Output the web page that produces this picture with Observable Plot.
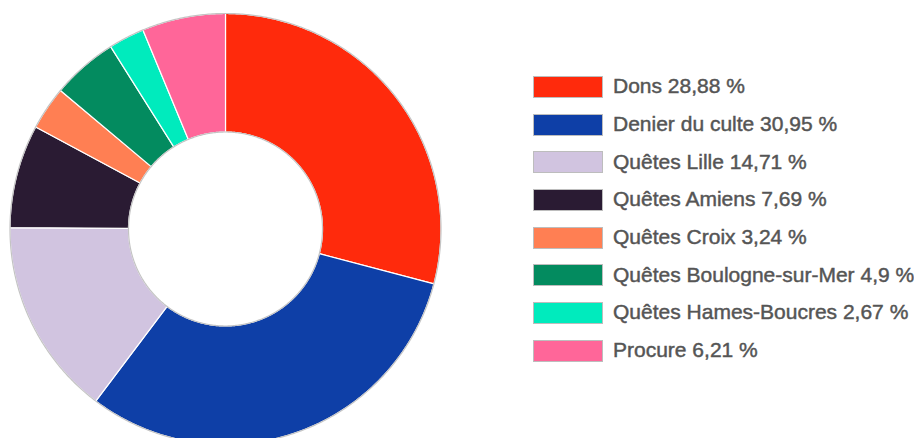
<!DOCTYPE html>
<html>
<head>
<meta charset="utf-8">
<script src="https://cdn.jsdelivr.net/npm/d3@7"></script>
<script src="https://cdn.jsdelivr.net/npm/@observablehq/plot@0.6"></script>
<style>
  html, body { margin: 0; padding: 0; background: #fff; }
  #wrap { position: relative; width: 914px; height: 438px; overflow: hidden; }
  #chart { position: absolute; left: 0; top: 0; }
  #legend { position: absolute; left: 533px; top: 68px; font-family: "Liberation Sans", Arial, sans-serif; }
  .row { display: flex; align-items: center; height: 37.7px; }
  .sw { width: 68px; height: 20px; border: 1px solid #bdbdbd; box-sizing: content-box; margin-right: 10px; }
  .lab { font-size: 21px; color: #555555; white-space: nowrap; -webkit-text-stroke: 0.45px #555555; margin-top: -1px; }
</style>
</head>
<body>
<div id="wrap">
  <div id="chart"></div>
  <div id="legend"></div>
</div>
<script>
const labels = ["Dons", "Denier du culte", "Quêtes Lille", "Quêtes Amiens", "Quêtes Croix", "Quêtes Boulogne-sur-Mer", "Quêtes Hames-Boucres", "Procure"];
const values = [28.88, 30.95, 14.71, 7.69, 3.24, 4.9, 2.67, 6.21];
const colors = ["#ff2a0c", "#0e3fa7", "#d1c4e0", "#2a1b33", "#ff7f53", "#038b5f", "#00ebbd", "#ff6699"];

const innerRatio = 97 / 215.5;
const cx = 225, cy = 228.5, R = 215.5;

const arcs = d3.pie().sort(null).value(d => d.value)(labels.map((label, i) => ({label, value: values[i]})));

function slicePoints(a) {
  const pts = [];
  const n = Math.max(2, Math.ceil((a.endAngle - a.startAngle) / (Math.PI / 360)));
  for (let k = 0; k <= n; k++) {
    const t = a.startAngle + (a.endAngle - a.startAngle) * k / n;
    pts.push({label: a.data.label, x: Math.sin(t), y: Math.cos(t)});
  }
  for (let k = n; k >= 0; k--) {
    const t = a.startAngle + (a.endAngle - a.startAngle) * k / n;
    pts.push({label: a.data.label, x: innerRatio * Math.sin(t), y: innerRatio * Math.cos(t)});
  }
  pts.push({...pts[0]});
  return pts;
}
const slices = arcs.flatMap(slicePoints);

function circle(r, name) {
  const pts = [];
  for (let k = 0; k <= 720; k++) {
    const t = 2 * Math.PI * k / 720;
    pts.push({ring: name, x: r * Math.sin(t), y: r * Math.cos(t)});
  }
  return pts;
}
const rings = [...circle(1, "outer"), ...circle(innerRatio, "inner")];

const chart = Plot.plot({
  width: 450,
  height: 438,
  margin: 0,
  x: {domain: [-1, 1], range: [cx - R, cx + R], axis: null},
  y: {domain: [-1, 1], range: [cy + R, cy - R], axis: null},
  color: {domain: labels, range: colors},
  style: {background: "transparent"},
  marks: [
    Plot.line(slices, {x: "x", y: "y", z: "label", fill: "label", stroke: "#ffffff", strokeWidth: 1.2, curve: "linear"}),
    Plot.line(rings, {x: "x", y: "y", z: "ring", stroke: "#c4c4c4", strokeWidth: 1.2, curve: "linear"})
  ]
});
document.getElementById("chart").appendChild(chart);

const legend = document.getElementById("legend");
labels.forEach((l, i) => {
  const row = document.createElement("div");
  row.className = "row";
  const sw = document.createElement("div");
  sw.className = "sw";
  sw.style.background = colors[i];
  const lab = document.createElement("div");
  lab.className = "lab";
  lab.textContent = `${l} ${String(values[i]).replace(".", ",")} %`;
  row.appendChild(sw);
  row.appendChild(lab);
  legend.appendChild(row);
});
</script>
</body>
</html>
